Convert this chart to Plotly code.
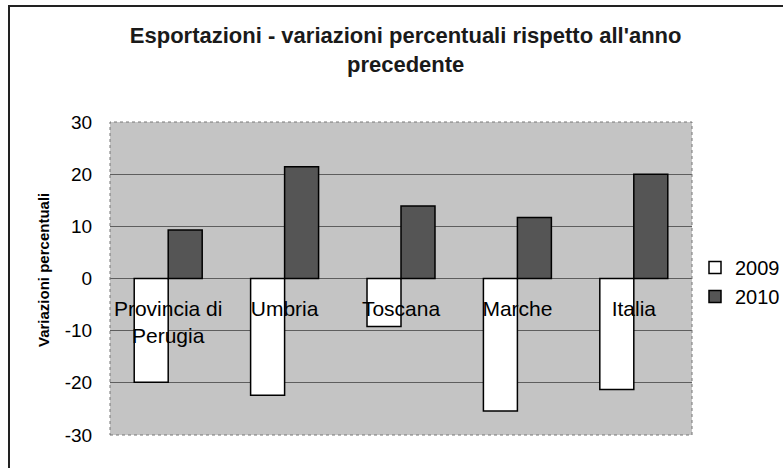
import plotly.graph_objects as go

categories = ["Provincia di<br>Perugia", "Umbria", "Toscana", "Marche", "Italia"]
values_2009 = [-19.9, -22.4, -9.2, -25.4, -21.3]
values_2010 = [9.3, 21.4, 13.9, 11.7, 20.0]
series_names = ["2009", "2010"]
y_ticks = [-30, -20, -10, 0, 10, 20, 30]
y_tick_labels = ["-30", "-20", "-10", "0", "10", "20", "30"]

FONT = "Liberation Sans, Arial, sans-serif"

fig = go.Figure()
fig.add_trace(go.Bar(
    x=categories, y=values_2009, name=series_names[0],
    marker=dict(color="white", line=dict(color="black", width=1.5)),
))
fig.add_trace(go.Bar(
    x=categories, y=values_2010, name=series_names[1],
    marker=dict(color="#555555", line=dict(color="black", width=1.5)),
))

fig.update_layout(
    width=783, height=468,
    margin=dict(l=110, r=91, t=122, b=33),
    paper_bgcolor="white",
    plot_bgcolor="#c4c4c4",
    barmode="group",
    bargap=0.416,
    bargroupgap=0,
    font=dict(family=FONT, color="black"),
    title=dict(
        text="<b>Esportazioni - variazioni percentuali rispetto all'anno<br>precedente</b>",
        x=0.508, xref="paper", xanchor="center",
        y=1 - 43 / 468, yref="container", yanchor="middle",
        font=dict(size=22, family=FONT, color="#1a1a1a"),
    ),
    legend=dict(
        xref="container", yref="container",
        x=695 / 783, y=1 - 282 / 468, xanchor="left", yanchor="middle",
        font=dict(size=20, family=FONT),
        bgcolor="rgba(0,0,0,0)",
        itemwidth=30,
    ),
    xaxis=dict(
        anchor="free", position=0.5, automargin=False,
        showline=False, showgrid=False, zeroline=False,
        ticks="outside", ticklen=11, tickcolor="rgba(0,0,0,0)",
        tickfont=dict(size=21, family=FONT, color="black"),
        layer="above traces",
    ),
    yaxis=dict(
        range=[-30, 30], automargin=False,
        tickvals=y_ticks, ticktext=y_tick_labels,
        showgrid=True, gridcolor="#5e5e5e", gridwidth=1,
        zeroline=True, zerolinecolor="#5e5e5e", zerolinewidth=1,
        showline=False,
        ticks="outside", ticklen=13, tickcolor="rgba(0,0,0,0)",
        tickfont=dict(size=19, family=FONT, color="black"),
    ),
    shapes=[
        dict(type="rect", xref="paper", yref="paper",
             x0=0, x1=1, y0=0, y1=1,
             line=dict(color="#777777", width=1, dash="dot"), layer="above"),
        dict(type="rect", xref="paper", yref="paper",
             x0=(9 - 110) / 582, x1=(800 - 110) / 582,
             y0=(435 - 480) / 313, y1=(435 - 6) / 313,
             line=dict(color="#222222", width=2)),
    ],
    annotations=[
        dict(text="<b>Variazioni percentuali</b>", textangle=-90,
             xref="paper", yref="paper",
             x=(43 - 110) / 582, y=(435 - 270) / 313,
             xanchor="center", yanchor="middle", showarrow=False,
             font=dict(size=15, family=FONT, color="black")),
    ],
)

fig.write_html(
    "out.html",
    config={"displayModeBar": False},
    post_script="document.body.style.margin='0px'; document.body.style.overflow='hidden';",
)
